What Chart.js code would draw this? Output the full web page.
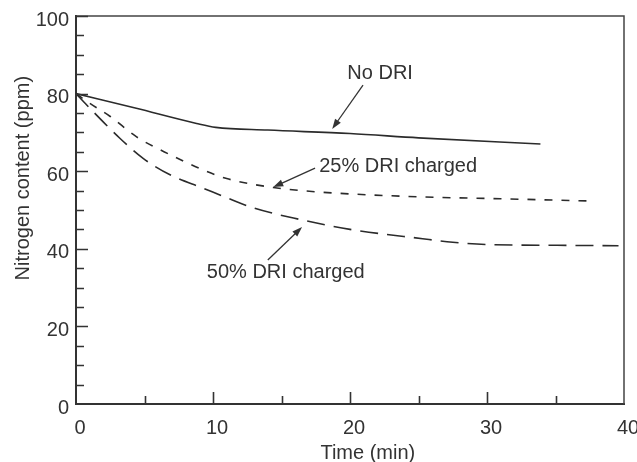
<!DOCTYPE html>
<html>
<head>
<meta charset="utf-8">
<script src="https://cdn.jsdelivr.net/npm/chart.js@4/dist/chart.umd.min.js"></script>
<style>
  html, body { margin: 0; padding: 0; background: #fff; }
  #wrap { width: 637px; height: 462px; }
</style>
</head>
<body>
<div id="wrap"><canvas id="chart"></canvas></div>
<script>
// values: time (min) and nitrogen content (ppm)
const noDriTime = [0, 4.4, 8.8, 10.2, 14, 20, 25, 33.9];
const noDriN    = [80, 76.2, 72.3, 71.3, 70.6, 69.7, 68.6, 67];

const dri25Time = [0, 1, 2.5, 4.4, 6.9, 9.3, 11, 14.4, 17.5, 25, 31, 37.7];
const dri25N    = [80, 77.5, 74.1, 68.9, 64.2, 60.3, 58.1, 55.8, 54.7, 53.4, 52.9, 52.3];

const dri50Time = [0, 0.8, 3.2, 4.9, 6.9, 9.3, 10.9, 12.9, 16.3, 20, 25.3, 27.5, 30, 35, 39.6];
const dri50N    = [80, 77, 68.5, 63.3, 59, 55.6, 53.3, 50.6, 47.6, 45.0, 42.6, 41.7, 41.1, 40.9, 40.8];

const xTicksMajor = [0, 10, 20, 30, 40];
const yTicksMajor = [0, 20, 40, 60, 80, 100];

// annotation labels and arrows, in data units
const labels = [
  { text: "No DRI", x: 22.2, y: 85.3, align: "center", from: [20.95, 82.2], to: [18.7, 70.9] },
  { text: "25% DRI charged", x: 17.75, y: 61.1, align: "left", from: [17.45, 60.8], to: [14.4, 55.9] },
  { text: "50% DRI charged", x: 9.55, y: 34, align: "left", from: [14.0, 37.1], to: [16.5, 45.6] }
];

const FONT = "'Liberation Sans', Arial, sans-serif";
const INK = "#333";

const pts = (xs, ys) => xs.map((x, i) => ({ x, y: ys[i] }));

const lineStyle = {
  borderColor: "#2b2b2b",
  borderWidth: 1.6,
  pointRadius: 0,
  fill: false,
  cubicInterpolationMode: "monotone"
};

const decor = {
  id: "decor",
  afterDatasetsDraw(chart) {
    const { ctx, chartArea: a } = chart;
    const sx = chart.scales.x, sy = chart.scales.y;
    ctx.save();

    // top and right frame
    ctx.strokeStyle = "#444";
    ctx.lineWidth = 1.5;
    ctx.beginPath();
    ctx.moveTo(a.left, a.top);
    ctx.lineTo(a.right, a.top);
    ctx.lineTo(a.right, a.bottom);
    ctx.stroke();

    // inward tick marks
    ctx.strokeStyle = INK;
    ctx.lineWidth = 1.6;
    ctx.beginPath();
    sx.ticks.forEach(t => {
      if (t.value <= 0 || t.value >= 40) return;
      const px = Math.round(sx.getPixelForValue(t.value)) + 0.5;
      const len = xTicksMajor.includes(t.value) ? 12 : 8;
      ctx.moveTo(px, a.bottom);
      ctx.lineTo(px, a.bottom - len);
    });
    sy.ticks.forEach(t => {
      if (t.value <= 0) return;
      const py = Math.round(sy.getPixelForValue(t.value)) + 0.5;
      const len = yTicksMajor.includes(t.value) ? 12 : 8;
      ctx.moveTo(a.left, py);
      ctx.lineTo(a.left + len, py);
    });
    ctx.stroke();

    // labels with arrows
    ctx.fillStyle = INK;
    ctx.font = "20px " + FONT;
    ctx.textBaseline = "middle";
    labels.forEach(l => {
      ctx.textAlign = l.align;
      ctx.fillText(l.text, sx.getPixelForValue(l.x), sy.getPixelForValue(l.y));
      const x1 = sx.getPixelForValue(l.from[0]), y1 = sy.getPixelForValue(l.from[1]);
      const x2 = sx.getPixelForValue(l.to[0]), y2 = sy.getPixelForValue(l.to[1]);
      const ang = Math.atan2(y2 - y1, x2 - x1);
      ctx.strokeStyle = INK;
      ctx.lineWidth = 1.3;
      ctx.beginPath();
      ctx.moveTo(x1, y1);
      ctx.lineTo(x2 - 6 * Math.cos(ang), y2 - 6 * Math.sin(ang));
      ctx.stroke();
      ctx.beginPath();
      ctx.moveTo(x2, y2);
      ctx.lineTo(x2 - 10 * Math.cos(ang) + 3.5 * Math.sin(ang), y2 - 10 * Math.sin(ang) - 3.5 * Math.cos(ang));
      ctx.lineTo(x2 - 10 * Math.cos(ang) - 3.5 * Math.sin(ang), y2 - 10 * Math.sin(ang) + 3.5 * Math.cos(ang));
      ctx.closePath();
      ctx.fill();
    });

    // axis titles
    ctx.textAlign = "center";
    ctx.fillText("Time (min)", sx.getPixelForValue(21.3), a.bottom + 49);
    ctx.translate(23, sy.getPixelForValue(58.2));
    ctx.rotate(-Math.PI / 2);
    ctx.fillText("Nitrogen content (ppm)", 0, 0);
    ctx.restore();
  }
};

new Chart(document.getElementById("chart"), {
  type: "line",
  data: {
    datasets: [
      { label: "No DRI", data: pts(noDriTime, noDriN), ...lineStyle },
      { label: "25% DRI charged", data: pts(dri25Time, dri25N), ...lineStyle, borderDash: [8, 9] },
      { label: "50% DRI charged", data: pts(dri50Time, dri50N), ...lineStyle, borderDash: [18, 9] }
    ]
  },
  options: {
    responsive: true,
    maintainAspectRatio: false,
    animation: false,
    devicePixelRatio: 1,
    layout: { padding: { top: 16, right: 13, left: 0, bottom: 0 } },
    plugins: { legend: { display: false }, tooltip: { enabled: false } },
    scales: {
      x: {
        type: "linear",
        min: 0,
        max: 40,
        grid: { display: false, drawTicks: false },
        border: { display: true, color: INK, width: 2 },
        ticks: {
          stepSize: 5,
          padding: 12,
          labelOffset: 4,
          maxRotation: 0,
          autoSkip: false,
          color: INK,
          font: { family: FONT, size: 20 },
          callback: v => (xTicksMajor.includes(v) ? String(v) : "")
        },
        afterFit(s) { s.height = 58; s.paddingLeft = 0; s.paddingRight = 0; }
      },
      y: {
        min: 0,
        max: 100,
        grid: { display: false, drawTicks: false },
        border: { display: true, color: INK, width: 2 },
        ticks: {
          stepSize: 5,
          padding: 7,
          labelOffset: 4,
          autoSkip: false,
          color: INK,
          font: { family: FONT, size: 20 },
          callback: v => (yTicksMajor.includes(v) ? String(v) : "")
        },
        afterFit(s) { s.width = 76; s.paddingTop = 0; s.paddingBottom = 0; }
      }
    }
  },
  plugins: [decor]
});
</script>
</body>
</html>
